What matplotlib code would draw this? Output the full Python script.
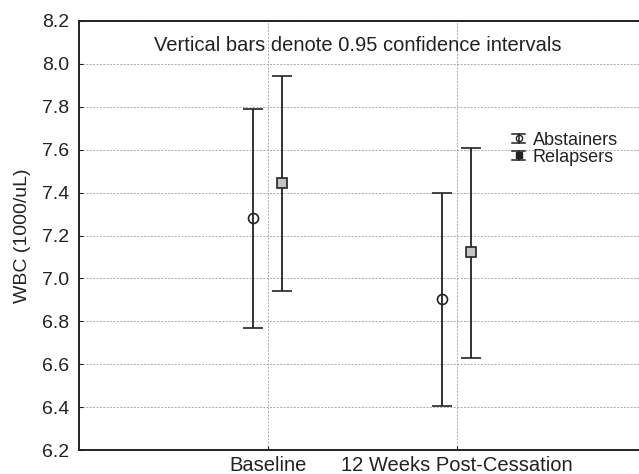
import matplotlib

matplotlib.use("Agg")
import matplotlib.pyplot as plt
import numpy as np
from matplotlib.legend_handler import HandlerBase
from matplotlib.lines import Line2D

plt.rcParams["font.family"] = ["Liberation Sans", "DejaVu Sans"]

# --- data ---
timepoints = ["Baseline", "12 Weeks Post-Cessation"]
groups = ["Abstainers", "Relapsers"]
means = {
    "Abstainers": [7.28, 6.905],
    "Relapsers": [7.445, 7.125],
}
lower = {
    "Abstainers": [6.77, 6.405],
    "Relapsers": [6.94, 6.63],
}
upper = {
    "Abstainers": [7.79, 7.40],
    "Relapsers": [7.945, 7.61],
}
yticks = [6.2, 6.4, 6.6, 6.8, 7.0, 7.2, 7.4, 7.6, 7.8, 8.0, 8.2]

FS = 14.5
INK = "#222222"
offsets = {"Abstainers": -0.077, "Relapsers": 0.075}
markers = {"Abstainers": ("o", "none", 7.2), "Relapsers": ("s", "#c4c4c4", 6.5)}
legend_face = {"Abstainers": "none", "Relapsers": INK}


class CompactErrorbar(HandlerBase):
    """small cap-marker-cap glyph, like the stats package draws it"""

    def create_artists(self, legend, orig_handle, xdescent, ydescent,
                       width, height, fontsize, trans):
        cx = width / 2 - xdescent
        cy = height / 2 - ydescent
        hw, hh = width * 0.42, height * 0.42
        kw = dict(color=INK, lw=1.1, transform=trans)
        arts = [
            Line2D([cx - hw, cx + hw], [cy + hh, cy + hh], **kw),
            Line2D([cx - hw, cx + hw], [cy - hh, cy - hh], **kw),
            Line2D([cx, cx], [cy - hh, cy + hh], **kw),
        ]
        data_line = orig_handle[0]
        label = orig_handle.get_label()
        arts.append(Line2D([cx], [cy], marker=data_line.get_marker(), ls="none",
                           ms=4.5, mfc=legend_face.get(label, "none"), mec=INK,
                           mew=1.0, transform=trans))
        return arts


fig = plt.figure(figsize=(6.39, 4.74), dpi=100)
ax = fig.add_axes([0.1236, 0.0506, 0.8874, 0.9051])

x = np.arange(1, len(timepoints) + 1)
containers = []
for g in groups:
    m = np.asarray(means[g])
    err = np.vstack([m - np.asarray(lower[g]), np.asarray(upper[g]) - m])
    mk, fc, ms = markers[g]
    c = ax.errorbar(x + offsets[g], m, yerr=err, fmt=mk, color=INK,
                    mfc=fc, mec=INK, ms=ms, mew=1.2, ecolor=INK,
                    elinewidth=1.3, capsize=7, capthick=1.3, label=g)
    containers.append(c)

ax.set_xlim(0, 3)
ax.set_ylim(6.2, 8.2)
ax.set_yticks(yticks)
ax.set_yticklabels([f"{v:.1f}" for v in yticks])
ax.set_xticks(x)
ax.set_xticklabels(timepoints)
ax.tick_params(direction="in", length=3, labelsize=FS, colors=INK)
ax.tick_params(axis="y", labelsize=14, pad=7)
ax.tick_params(axis="x", pad=4)
ax.grid(True, linestyle=(0, (2, 1.5)), color="#aaaaaa", linewidth=0.7)
for s in ax.spines.values():
    s.set_linewidth(1.4)
    s.set_color(INK)

ax.set_ylabel("WBC (1000/uL)", fontsize=14, labelpad=8, color=INK)
ax.text(0.492, 0.942, "Vertical bars denote 0.95 confidence intervals",
        transform=ax.transAxes, ha="center", va="center", fontsize=FS,
        color=INK)

leg = ax.legend(containers, groups, loc="upper left",
                bbox_to_anchor=(0.800, 0.722), bbox_transform=fig.transFigure,
                frameon=False, fontsize=13, handlelength=0.85, handleheight=0.55,
                handletextpad=0.35, labelspacing=0.0, borderpad=0,
                borderaxespad=0, handler_map={type(containers[0]): CompactErrorbar()})
for t in leg.get_texts():
    t.set_color(INK)

fig.savefig("out.png", dpi=100)
